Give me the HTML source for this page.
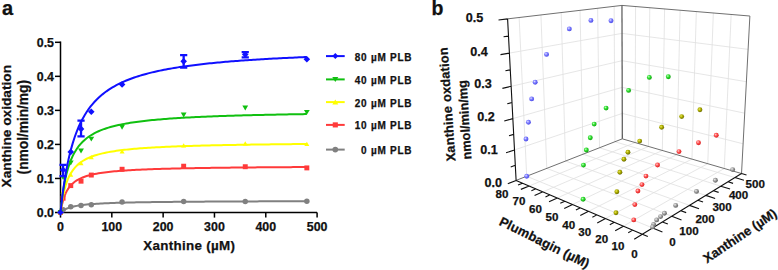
<!DOCTYPE html>
<html><head><meta charset="utf-8"><style>
html,body{margin:0;padding:0;background:#fff;}
body{width:778px;height:270px;overflow:hidden;position:relative;font-family:"Liberation Sans",sans-serif;}
svg{position:absolute;left:0;top:0;}
</style></head><body>
<svg width="778" height="270" viewBox="0 0 778 270">
<g stroke="#000" stroke-width="1.5" fill="none">
<path d="M60.5 41.4V212.5H317.1"/>
<path d="M55 212.5H60.5"/>
<path d="M55 178.46H60.5"/>
<path d="M55 144.42H60.5"/>
<path d="M55 110.38H60.5"/>
<path d="M55 76.34H60.5"/>
<path d="M55 42.3H60.5"/>
<path d="M60.5 212.5V217.6"/>
<path d="M111.82 212.5V217.6"/>
<path d="M163.14 212.5V217.6"/>
<path d="M214.46 212.5V217.6"/>
<path d="M265.78 212.5V217.6"/>
<path d="M317.1 212.5V217.6"/>
</g>
<g font-family="Liberation Sans, sans-serif" font-weight="bold" stroke="#111" stroke-width="0.25" font-size="12.4" fill="#111" text-anchor="end">
<text x="54" y="216.9">0.0</text>
<text x="54" y="182.86">0.1</text>
<text x="54" y="148.82">0.2</text>
<text x="54" y="114.78">0.3</text>
<text x="54" y="80.74">0.4</text>
<text x="54" y="46.7">0.5</text>
</g>
<g font-family="Liberation Sans, sans-serif" font-weight="bold" stroke="#111" stroke-width="0.25" font-size="12.4" fill="#111" text-anchor="middle">
<text x="60.5" y="230.6">0</text>
<text x="111.82" y="230.6">100</text>
<text x="163.14" y="230.6">200</text>
<text x="214.46" y="230.6">300</text>
<text x="265.78" y="230.6">400</text>
<text x="317.1" y="230.6">500</text>
</g>
<text font-family="Liberation Sans, sans-serif" font-weight="bold" stroke="#111" stroke-width="0.25" font-size="13.4" fill="#111" text-anchor="middle" letter-spacing="0.3" x="189.2" y="249.8">Xanthine (µM)</text>
<text font-family="Liberation Sans, sans-serif" font-weight="bold" stroke="#111" stroke-width="0.25" font-size="13.7" fill="#111" text-anchor="middle" transform="translate(11.2 126.2) rotate(-90)">Xanthine oxidation</text>
<text font-family="Liberation Sans, sans-serif" font-weight="bold" stroke="#111" stroke-width="0.25" font-size="13.8" fill="#111" text-anchor="middle" letter-spacing="-0.05" transform="translate(28.1 127.2) rotate(-90)">(nmol/min/mg)</text>
<text font-family="Liberation Sans, sans-serif" font-weight="bold" stroke="#111" stroke-width="0.25" font-size="20" fill="#111" x="2" y="15">a</text>
<path d="M60.5 212.5 L60.76 212.27 L61.01 212.04 L61.27 211.83 L61.53 211.62 L61.78 211.42 L62.04 211.23 L62.3 211.04 L62.55 210.86 L62.81 210.69 L63.07 210.52 L63.32 210.36 L63.58 210.21 L63.84 210.05 L64.09 209.91 L64.35 209.76 L64.61 209.63 L64.86 209.49 L65.12 209.36 L65.38 209.24 L65.63 209.11 L65.89 208.99 L66.15 208.88 L66.4 208.76 L66.66 208.65 L66.92 208.55 L67.17 208.44 L67.43 208.34 L67.68 208.24 L67.94 208.15 L68.2 208.05 L68.45 207.96 L68.71 207.87 L68.97 207.79 L69.22 207.7 L69.48 207.62 L69.74 207.54 L69.99 207.46 L70.25 207.38 L70.51 207.31 L70.76 207.23 L70.76 207.23 L72.75 206.71 L74.73 206.27 L76.72 205.88 L78.7 205.55 L80.68 205.25 L82.67 204.99 L84.65 204.76 L86.63 204.55 L88.62 204.36 L90.6 204.19 L92.59 204.03 L94.57 203.89 L96.55 203.76 L98.54 203.64 L100.52 203.53 L102.5 203.42 L104.49 203.33 L106.47 203.24 L108.46 203.15 L110.44 203.07 L112.42 203 L114.41 202.93 L116.39 202.86 L118.38 202.8 L120.36 202.74 L122.34 202.69 L124.33 202.63 L126.31 202.58 L128.29 202.54 L130.28 202.49 L132.26 202.45 L134.25 202.41 L136.23 202.37 L138.21 202.33 L140.2 202.29 L142.18 202.26 L144.16 202.23 L146.15 202.2 L148.13 202.17 L150.12 202.14 L152.1 202.11 L154.08 202.08 L156.07 202.05 L158.05 202.03 L160.03 202.01 L162.02 201.98 L164 201.96 L165.99 201.94 L167.97 201.92 L169.95 201.9 L171.94 201.88 L173.92 201.86 L175.91 201.84 L177.89 201.82 L179.87 201.8 L181.86 201.79 L183.84 201.77 L185.82 201.75 L187.81 201.74 L189.79 201.72 L191.78 201.71 L193.76 201.69 L195.74 201.68 L197.73 201.67 L199.71 201.65 L201.69 201.64 L203.68 201.63 L205.66 201.61 L207.65 201.6 L209.63 201.59 L211.61 201.58 L213.6 201.57 L215.58 201.56 L217.57 201.55 L219.55 201.54 L221.53 201.53 L223.52 201.52 L225.5 201.51 L227.48 201.5 L229.47 201.49 L231.45 201.48 L233.44 201.47 L235.42 201.46 L237.4 201.45 L239.39 201.45 L241.37 201.44 L243.35 201.43 L245.34 201.42 L247.32 201.41 L249.31 201.41 L251.29 201.4 L253.27 201.39 L255.26 201.39 L257.24 201.38 L259.22 201.37 L261.21 201.37 L263.19 201.36 L265.18 201.35 L267.16 201.35 L269.14 201.34 L271.13 201.33 L273.11 201.33 L275.1 201.32 L277.08 201.32 L279.06 201.31 L281.05 201.3 L283.03 201.3 L285.01 201.29 L287 201.29 L288.98 201.28 L290.97 201.28 L292.95 201.27 L294.93 201.27 L296.92 201.26 L298.9 201.26 L300.88 201.25 L302.87 201.25 L304.85 201.24 L306.84 201.24" stroke="#808080" stroke-width="2" fill="none"/>
<circle cx="60.5" cy="212.5" r="2.75" fill="#808080"/>
<circle cx="63.07" cy="209.78" r="2.75" fill="#808080"/>
<circle cx="70.76" cy="206.71" r="2.75" fill="#808080"/>
<circle cx="81.03" cy="205.49" r="2.75" fill="#808080"/>
<circle cx="91.29" cy="204.67" r="2.75" fill="#808080"/>
<circle cx="122.08" cy="201.95" r="2.75" fill="#808080"/>
<circle cx="183.67" cy="201.61" r="2.75" fill="#808080"/>
<circle cx="245.25" cy="201.61" r="2.75" fill="#808080"/>
<circle cx="306.84" cy="201.27" r="2.75" fill="#808080"/>
<path d="M60.5 212.5 L60.76 210.94 L61.01 209.48 L61.27 208.12 L61.53 206.83 L61.78 205.62 L62.04 204.48 L62.3 203.41 L62.55 202.39 L62.81 201.42 L63.07 200.51 L63.32 199.64 L63.58 198.81 L63.84 198.02 L64.09 197.27 L64.35 196.55 L64.61 195.87 L64.86 195.21 L65.12 194.58 L65.38 193.98 L65.63 193.41 L65.89 192.85 L66.15 192.32 L66.4 191.81 L66.66 191.31 L66.92 190.84 L67.17 190.38 L67.43 189.94 L67.68 189.52 L67.94 189.1 L68.2 188.71 L68.45 188.32 L68.71 187.95 L68.97 187.59 L69.22 187.25 L69.48 186.91 L69.74 186.58 L69.99 186.27 L70.25 185.96 L70.51 185.66 L70.76 185.37 L70.76 185.37 L72.75 183.39 L74.73 181.76 L76.72 180.42 L78.7 179.27 L80.68 178.3 L82.67 177.45 L84.65 176.71 L86.63 176.06 L88.62 175.48 L90.6 174.96 L92.59 174.49 L94.57 174.07 L96.55 173.69 L98.54 173.34 L100.52 173.02 L102.5 172.72 L104.49 172.45 L106.47 172.2 L108.46 171.96 L110.44 171.75 L112.42 171.54 L114.41 171.35 L116.39 171.17 L118.38 171.01 L120.36 170.85 L122.34 170.7 L124.33 170.56 L126.31 170.43 L128.29 170.3 L130.28 170.18 L132.26 170.07 L134.25 169.96 L136.23 169.86 L138.21 169.76 L140.2 169.67 L142.18 169.58 L144.16 169.49 L146.15 169.41 L148.13 169.33 L150.12 169.26 L152.1 169.19 L154.08 169.12 L156.07 169.05 L158.05 168.99 L160.03 168.93 L162.02 168.87 L164 168.81 L165.99 168.75 L167.97 168.7 L169.95 168.65 L171.94 168.6 L173.92 168.55 L175.91 168.5 L177.89 168.46 L179.87 168.41 L181.86 168.37 L183.84 168.33 L185.82 168.29 L187.81 168.25 L189.79 168.22 L191.78 168.18 L193.76 168.14 L195.74 168.11 L197.73 168.07 L199.71 168.04 L201.69 168.01 L203.68 167.98 L205.66 167.95 L207.65 167.92 L209.63 167.89 L211.61 167.86 L213.6 167.84 L215.58 167.81 L217.57 167.78 L219.55 167.76 L221.53 167.73 L223.52 167.71 L225.5 167.69 L227.48 167.66 L229.47 167.64 L231.45 167.62 L233.44 167.6 L235.42 167.58 L237.4 167.56 L239.39 167.54 L241.37 167.52 L243.35 167.5 L245.34 167.48 L247.32 167.46 L249.31 167.44 L251.29 167.42 L253.27 167.41 L255.26 167.39 L257.24 167.37 L259.22 167.35 L261.21 167.34 L263.19 167.32 L265.18 167.31 L267.16 167.29 L269.14 167.28 L271.13 167.26 L273.11 167.25 L275.1 167.23 L277.08 167.22 L279.06 167.21 L281.05 167.19 L283.03 167.18 L285.01 167.17 L287 167.15 L288.98 167.14 L290.97 167.13 L292.95 167.12 L294.93 167.1 L296.92 167.09 L298.9 167.08 L300.88 167.07 L302.87 167.06 L304.85 167.05 L306.84 167.04" stroke="#ff3a3a" stroke-width="2" fill="none"/>
<rect x="58.03" y="210.03" width="4.93" height="4.93" fill="#ff3a3a"/>
<rect x="60.6" y="195.74" width="4.93" height="4.93" fill="#ff3a3a"/>
<rect x="68.3" y="183.14" width="4.93" height="4.93" fill="#ff3a3a"/>
<rect x="78.56" y="178.72" width="4.93" height="4.93" fill="#ff3a3a"/>
<rect x="88.83" y="172.59" width="4.93" height="4.93" fill="#ff3a3a"/>
<rect x="119.62" y="166.8" width="4.93" height="4.93" fill="#ff3a3a"/>
<rect x="181.2" y="163.74" width="4.93" height="4.93" fill="#ff3a3a"/>
<rect x="242.79" y="164.25" width="4.93" height="4.93" fill="#ff3a3a"/>
<rect x="304.37" y="165.44" width="4.93" height="4.93" fill="#ff3a3a"/>
<path d="M60.5 212.5 L60.76 210.38 L61.01 208.39 L61.27 206.5 L61.53 204.72 L61.78 203.04 L62.04 201.44 L62.3 199.93 L62.55 198.49 L62.81 197.12 L63.07 195.81 L63.32 194.56 L63.58 193.37 L63.84 192.23 L64.09 191.15 L64.35 190.1 L64.61 189.1 L64.86 188.14 L65.12 187.22 L65.38 186.34 L65.63 185.48 L65.89 184.66 L66.15 183.87 L66.4 183.11 L66.66 182.38 L66.92 181.67 L67.17 180.98 L67.43 180.32 L67.68 179.68 L67.94 179.06 L68.2 178.47 L68.45 177.89 L68.71 177.32 L68.97 176.78 L69.22 176.25 L69.48 175.74 L69.74 175.24 L69.99 174.76 L70.25 174.29 L70.51 173.83 L70.76 173.39 L70.76 173.39 L72.75 170.33 L74.73 167.81 L76.72 165.69 L78.7 163.89 L80.68 162.35 L82.67 161 L84.65 159.82 L86.63 158.77 L88.62 157.84 L90.6 157.01 L92.59 156.25 L94.57 155.57 L96.55 154.95 L98.54 154.38 L100.52 153.86 L102.5 153.38 L104.49 152.93 L106.47 152.52 L108.46 152.14 L110.44 151.78 L112.42 151.45 L114.41 151.14 L116.39 150.85 L118.38 150.57 L120.36 150.31 L122.34 150.07 L124.33 149.84 L126.31 149.62 L128.29 149.41 L130.28 149.21 L132.26 149.03 L134.25 148.85 L136.23 148.68 L138.21 148.52 L140.2 148.36 L142.18 148.21 L144.16 148.07 L146.15 147.94 L148.13 147.81 L150.12 147.68 L152.1 147.56 L154.08 147.45 L156.07 147.34 L158.05 147.23 L160.03 147.13 L162.02 147.03 L164 146.94 L165.99 146.84 L167.97 146.76 L169.95 146.67 L171.94 146.59 L173.92 146.51 L175.91 146.43 L177.89 146.35 L179.87 146.28 L181.86 146.21 L183.84 146.14 L185.82 146.07 L187.81 146.01 L189.79 145.95 L191.78 145.89 L193.76 145.83 L195.74 145.77 L197.73 145.71 L199.71 145.66 L201.69 145.61 L203.68 145.55 L205.66 145.5 L207.65 145.46 L209.63 145.41 L211.61 145.36 L213.6 145.32 L215.58 145.27 L217.57 145.23 L219.55 145.19 L221.53 145.14 L223.52 145.1 L225.5 145.06 L227.48 145.03 L229.47 144.99 L231.45 144.95 L233.44 144.92 L235.42 144.88 L237.4 144.85 L239.39 144.81 L241.37 144.78 L243.35 144.75 L245.34 144.72 L247.32 144.68 L249.31 144.65 L251.29 144.62 L253.27 144.59 L255.26 144.57 L257.24 144.54 L259.22 144.51 L261.21 144.48 L263.19 144.46 L265.18 144.43 L267.16 144.41 L269.14 144.38 L271.13 144.36 L273.11 144.33 L275.1 144.31 L277.08 144.28 L279.06 144.26 L281.05 144.24 L283.03 144.22 L285.01 144.2 L287 144.17 L288.98 144.15 L290.97 144.13 L292.95 144.11 L294.93 144.09 L296.92 144.07 L298.9 144.05 L300.88 144.03 L302.87 144.01 L304.85 144 L306.84 143.98" stroke="#ffff00" stroke-width="2" fill="none"/>
<path d="M58 214.5L63 214.5L60.5 210.25Z" fill="#ffff00"/>
<path d="M60.57 193.4L65.57 193.4L63.07 189.15Z" fill="#ffff00"/>
<path d="M68.26 176.72L73.26 176.72L70.76 172.47Z" fill="#ffff00"/>
<path d="M78.53 165.31L83.53 165.31L81.03 161.06Z" fill="#ffff00"/>
<path d="M88.79 159.36L93.79 159.36L91.29 155.11Z" fill="#ffff00"/>
<path d="M119.58 153.57L124.58 153.57L122.08 149.32Z" fill="#ffff00"/>
<path d="M181.17 147.44L186.17 147.44L183.67 143.19Z" fill="#ffff00"/>
<path d="M242.75 145.4L247.75 145.4L245.25 141.15Z" fill="#ffff00"/>
<path d="M304.34 145.91L309.34 145.91L306.84 141.66Z" fill="#ffff00"/>
<path d="M60.5 212.5 L60.76 209.92 L61.01 207.46 L61.27 205.12 L61.53 202.89 L61.78 200.76 L62.04 198.73 L62.3 196.79 L62.55 194.93 L62.81 193.15 L63.07 191.44 L63.32 189.8 L63.58 188.23 L63.84 186.71 L64.09 185.26 L64.35 183.86 L64.61 182.51 L64.86 181.2 L65.12 179.95 L65.38 178.74 L65.63 177.57 L65.89 176.43 L66.15 175.34 L66.4 174.28 L66.66 173.26 L66.92 172.26 L67.17 171.3 L67.43 170.37 L67.68 169.47 L67.94 168.59 L68.2 167.74 L68.45 166.91 L68.71 166.1 L68.97 165.32 L69.22 164.56 L69.48 163.82 L69.74 163.1 L69.99 162.4 L70.25 161.72 L70.51 161.05 L70.76 160.41 L70.76 160.41 L72.75 155.9 L74.73 152.14 L76.72 148.95 L78.7 146.21 L80.68 143.83 L82.67 141.74 L84.65 139.9 L86.63 138.26 L88.62 136.79 L90.6 135.47 L92.59 134.27 L94.57 133.18 L96.55 132.18 L98.54 131.27 L100.52 130.43 L102.5 129.65 L104.49 128.93 L106.47 128.27 L108.46 127.64 L110.44 127.06 L112.42 126.52 L114.41 126.01 L116.39 125.53 L118.38 125.08 L120.36 124.65 L122.34 124.25 L124.33 123.87 L126.31 123.51 L128.29 123.17 L130.28 122.84 L132.26 122.53 L134.25 122.24 L136.23 121.96 L138.21 121.69 L140.2 121.43 L142.18 121.19 L144.16 120.95 L146.15 120.73 L148.13 120.51 L150.12 120.3 L152.1 120.1 L154.08 119.91 L156.07 119.73 L158.05 119.55 L160.03 119.38 L162.02 119.21 L164 119.05 L165.99 118.9 L167.97 118.75 L169.95 118.61 L171.94 118.47 L173.92 118.34 L175.91 118.2 L177.89 118.08 L179.87 117.96 L181.86 117.84 L183.84 117.72 L185.82 117.61 L187.81 117.5 L189.79 117.4 L191.78 117.29 L193.76 117.2 L195.74 117.1 L197.73 117 L199.71 116.91 L201.69 116.82 L203.68 116.74 L205.66 116.65 L207.65 116.57 L209.63 116.49 L211.61 116.41 L213.6 116.33 L215.58 116.26 L217.57 116.18 L219.55 116.11 L221.53 116.04 L223.52 115.98 L225.5 115.91 L227.48 115.84 L229.47 115.78 L231.45 115.72 L233.44 115.66 L235.42 115.6 L237.4 115.54 L239.39 115.48 L241.37 115.43 L243.35 115.37 L245.34 115.32 L247.32 115.27 L249.31 115.21 L251.29 115.16 L253.27 115.11 L255.26 115.07 L257.24 115.02 L259.22 114.97 L261.21 114.93 L263.19 114.88 L265.18 114.84 L267.16 114.79 L269.14 114.75 L271.13 114.71 L273.11 114.67 L275.1 114.63 L277.08 114.59 L279.06 114.55 L281.05 114.51 L283.03 114.47 L285.01 114.44 L287 114.4 L288.98 114.36 L290.97 114.33 L292.95 114.29 L294.93 114.26 L296.92 114.23 L298.9 114.19 L300.88 114.16 L302.87 114.13 L304.85 114.1 L306.84 114.07" stroke="#10c010" stroke-width="2" fill="none"/>
<path d="M57.6 210.18L63.4 210.18L60.5 215.11Z" fill="#10c010"/>
<path d="M60.17 175.12L65.97 175.12L63.07 180.05Z" fill="#10c010"/>
<path d="M67.86 160.48L73.66 160.48L70.76 165.41Z" fill="#10c010"/>
<path d="M78.13 148.57L83.93 148.57L81.03 153.5Z" fill="#10c010"/>
<path d="M88.39 136.65L94.19 136.65L91.29 141.58Z" fill="#10c010"/>
<path d="M119.18 124.74L124.98 124.74L122.08 129.67Z" fill="#10c010"/>
<path d="M180.77 112.49L186.57 112.49L183.67 117.42Z" fill="#10c010"/>
<path d="M242.35 105.47L248.15 105.47L245.25 110.4Z" fill="#10c010"/>
<path d="M303.94 109.9L309.74 109.9L306.84 114.83Z" fill="#10c010"/>
<path d="M60.5 212.5 L60.76 210.04 L61.01 207.65 L61.27 205.34 L61.53 203.08 L61.78 200.89 L62.04 198.76 L62.3 196.69 L62.55 194.68 L62.81 192.71 L63.07 190.8 L63.32 188.94 L63.58 187.12 L63.84 185.36 L64.09 183.63 L64.35 181.95 L64.61 180.3 L64.86 178.7 L65.12 177.14 L65.38 175.61 L65.63 174.11 L65.89 172.65 L66.15 171.23 L66.4 169.83 L66.66 168.47 L66.92 167.14 L67.17 165.83 L67.43 164.55 L67.68 163.3 L67.94 162.08 L68.2 160.88 L68.45 159.71 L68.71 158.56 L68.97 157.43 L69.22 156.32 L69.48 155.24 L69.74 154.18 L69.99 153.14 L70.25 152.11 L70.51 151.11 L70.76 150.13 L70.76 150.13 L72.75 143.11 L74.73 136.97 L76.72 131.57 L78.7 126.77 L80.68 122.49 L82.67 118.64 L84.65 115.15 L86.63 111.99 L88.62 109.11 L90.6 106.47 L92.59 104.04 L94.57 101.8 L96.55 99.72 L98.54 97.8 L100.52 96.01 L102.5 94.34 L104.49 92.78 L106.47 91.31 L108.46 89.94 L110.44 88.64 L112.42 87.43 L114.41 86.28 L116.39 85.19 L118.38 84.16 L120.36 83.18 L122.34 82.25 L124.33 81.37 L126.31 80.53 L128.29 79.73 L130.28 78.96 L132.26 78.23 L134.25 77.53 L136.23 76.87 L138.21 76.23 L140.2 75.61 L142.18 75.02 L144.16 74.45 L146.15 73.91 L148.13 73.39 L150.12 72.88 L152.1 72.4 L154.08 71.93 L156.07 71.47 L158.05 71.04 L160.03 70.62 L162.02 70.21 L164 69.81 L165.99 69.43 L167.97 69.06 L169.95 68.71 L171.94 68.36 L173.92 68.02 L175.91 67.7 L177.89 67.38 L179.87 67.07 L181.86 66.78 L183.84 66.49 L185.82 66.2 L187.81 65.93 L189.79 65.66 L191.78 65.4 L193.76 65.15 L195.74 64.9 L197.73 64.66 L199.71 64.43 L201.69 64.2 L203.68 63.98 L205.66 63.76 L207.65 63.55 L209.63 63.35 L211.61 63.14 L213.6 62.95 L215.58 62.76 L217.57 62.57 L219.55 62.38 L221.53 62.2 L223.52 62.03 L225.5 61.86 L227.48 61.69 L229.47 61.52 L231.45 61.36 L233.44 61.2 L235.42 61.05 L237.4 60.9 L239.39 60.75 L241.37 60.6 L243.35 60.46 L245.34 60.32 L247.32 60.19 L249.31 60.05 L251.29 59.92 L253.27 59.79 L255.26 59.66 L257.24 59.54 L259.22 59.42 L261.21 59.3 L263.19 59.18 L265.18 59.06 L267.16 58.95 L269.14 58.84 L271.13 58.73 L273.11 58.62 L275.1 58.52 L277.08 58.41 L279.06 58.31 L281.05 58.21 L283.03 58.11 L285.01 58.01 L287 57.92 L288.98 57.82 L290.97 57.73 L292.95 57.64 L294.93 57.55 L296.92 57.46 L298.9 57.37 L300.88 57.29 L302.87 57.2 L304.85 57.12 L306.84 57.04" stroke="#1010ff" stroke-width="2" fill="none"/>
<path d="M63.07 176.08V164.84M59.47 176.08H66.67M59.47 164.84H66.67" stroke="#1010ff" stroke-width="2.3" fill="none"/>
<path d="M81.03 136.28V120.59M77.43 136.28H84.63M77.43 120.59H84.63" stroke="#1010ff" stroke-width="2.3" fill="none"/>
<path d="M183.67 67.59V55.2M180.07 67.59H187.27M180.07 55.2H187.27" stroke="#1010ff" stroke-width="2.3" fill="none"/>
<path d="M245.25 57.38V52.04M241.65 57.38H248.85M241.65 52.04H248.85" stroke="#1010ff" stroke-width="2.3" fill="none"/>
<path d="M60.5 209.2L63.8 212.5L60.5 215.8L57.2 212.5Z" fill="#1010ff"/>
<path d="M63.07 166.65L66.37 169.95L63.07 173.25L59.77 169.95Z" fill="#1010ff"/>
<path d="M70.76 148.61L74.06 151.91L70.76 155.21L67.46 151.91Z" fill="#1010ff"/>
<path d="M81.03 125.6L84.33 128.9L81.03 132.2L77.73 128.9Z" fill="#1010ff"/>
<path d="M91.29 108.44L94.59 111.74L91.29 115.04L87.99 111.74Z" fill="#1010ff"/>
<path d="M122.08 81.21L125.38 84.51L122.08 87.81L118.78 84.51Z" fill="#1010ff"/>
<path d="M183.67 58.06L186.97 61.36L183.67 64.66L180.37 61.36Z" fill="#1010ff"/>
<path d="M245.25 51.25L248.55 54.55L245.25 57.85L241.95 54.55Z" fill="#1010ff"/>
<path d="M306.84 56.02L310.14 59.32L306.84 62.62L303.54 59.32Z" fill="#1010ff"/>
<path d="M326 56.1H344.7" stroke="#1010ff" stroke-width="2"/>
<path d="M335.3 53.1L338.3 56.1L335.3 59.1L332.3 56.1Z" fill="#1010ff"/>
<text font-family="Liberation Sans, sans-serif" font-weight="bold" stroke="#111" stroke-width="0.25" font-size="10" fill="#111" letter-spacing="0.75" text-anchor="end" x="412.3" y="60.5">80 µM PLB</text>
<path d="M326 79.4H344.7" stroke="#10c010" stroke-width="2"/>
<path d="M332.3 77L338.3 77L335.3 82.1Z" fill="#10c010"/>
<text font-family="Liberation Sans, sans-serif" font-weight="bold" stroke="#111" stroke-width="0.25" font-size="10" fill="#111" letter-spacing="0.75" text-anchor="end" x="412.3" y="83.8">40 µM PLB</text>
<path d="M326 102.1H344.7" stroke="#ffff00" stroke-width="2"/>
<path d="M332.3 104.5L338.3 104.5L335.3 99.4Z" fill="#ffff00"/>
<text font-family="Liberation Sans, sans-serif" font-weight="bold" stroke="#111" stroke-width="0.25" font-size="10" fill="#111" letter-spacing="0.75" text-anchor="end" x="412.3" y="106.5">20 µM PLB</text>
<path d="M326 124.9H344.7" stroke="#ff3a3a" stroke-width="2"/>
<rect x="332.75" y="122.35" width="5.1" height="5.1" fill="#ff3a3a"/>
<text font-family="Liberation Sans, sans-serif" font-weight="bold" stroke="#111" stroke-width="0.25" font-size="10" fill="#111" letter-spacing="0.75" text-anchor="end" x="412.3" y="129.3">10 µM PLB</text>
<path d="M326 149.6H344.7" stroke="#808080" stroke-width="2"/>
<circle cx="335.3" cy="149.6" r="2.85" fill="#808080"/>
<text font-family="Liberation Sans, sans-serif" font-weight="bold" stroke="#111" stroke-width="0.25" font-size="10" fill="#111" letter-spacing="0.75" text-anchor="end" x="412.3" y="154">0 µM PLB</text>
<path d="M623.38 226.15L724.25 168.5M605.5 218.52L707.75 163.7M588.58 211.31L691.96 159.11M572.55 204.47L676.85 154.71M557.35 197.99L662.37 150.49M542.92 191.83L648.47 146.45M529.19 185.97L635.14 142.57M652.59 227.96L526.7 176.25M671.82 216.19L546.78 168.4M689.5 205.37L565.52 161.06M705.8 195.39L583.06 154.2M720.89 186.16L599.5 147.77M734.89 177.59L614.94 141.73M514.5 149.94L622.25 113.41M512.85 118.6L622.18 87.37M511.15 86.33L622.11 60.71M509.4 53.1L622.03 33.4M526.7 176.25L519.13 17.51M546.78 168.4L540.93 14.94M565.52 161.06L561.18 12.56M583.06 154.2L580.04 10.35M599.5 147.77L597.64 8.28M614.94 141.73L614.11 6.34M743.1 143.78L622.25 113.41M744.73 113.2L622.18 87.37M746.39 81.73L622.11 60.71M748.11 49.35L622.03 33.4M724.25 168.5L731.16 14.47M707.75 163.7L713.34 12.99M691.96 159.11L696.34 11.58M676.85 154.71L680.11 10.24M662.37 150.49L664.6 8.95M648.47 146.45L649.77 7.72M635.14 142.57L635.57 6.55" stroke="#e0e0e0" stroke-width="0.8" fill="none"/>
<path d="M507.59 18.86L621.96 5.42M621.96 5.42L749.88 16.02M741.52 173.53L749.88 16.02M516.11 180.39L622.32 138.84M622.32 138.84L741.52 173.53" stroke="#707070" stroke-width="1" fill="none"/>
<path d="M622.32 138.84L621.96 5.42" stroke="#555" stroke-width="1.2" fill="none"/>
<path d="M516.11 180.39L507.59 18.86M516.11 180.39L642.33 234.23M642.33 234.23L741.52 173.53M516.11 180.39L507.8 183.64M515.31 165.27L510.71 166.95M514.5 149.94L506.05 152.8M513.68 134.38L509 135.84M512.85 118.6L504.25 121.05M512.01 102.58L507.25 103.81M511.15 86.33L502.4 88.35M510.28 69.84L505.43 70.83M509.4 53.1L500.49 54.66M508.5 36.11L503.57 36.83M507.59 18.86L498.52 19.93M642.33 234.23L634.22 239.2M632.72 230.14L628.24 232.78M623.38 226.15L615.19 230.84M614.31 222.29L609.8 224.78M605.5 218.52L597.24 222.95M596.92 214.87L592.38 217.23M588.58 211.31L580.28 215.5M580.46 207.84L575.9 210.08M572.55 204.47L564.23 208.44M564.86 201.19L560.28 203.31M557.35 197.99L549.02 201.76M550.04 194.87L545.47 196.89M542.92 191.83L534.58 195.41M535.97 188.86L531.39 190.78M529.19 185.97L520.86 189.38M522.57 183.15L518 184.98M516.11 180.39L507.8 183.64M642.33 234.23L647.83 236.58M652.59 227.96L662.42 231.99M662.41 221.94L667.84 224.09M671.82 216.19L681.5 219.89M680.84 210.67L686.18 212.64M689.5 205.37L699.02 208.77M697.81 200.28L703.06 202.1M705.8 195.39L715.16 198.53M713.49 190.69L718.65 192.37M720.89 186.16L730.08 189.06M728.02 181.79L733.09 183.35M734.89 177.59L743.92 180.28M741.52 173.53L746.5 174.98" stroke="#111" stroke-width="1.1" fill="none"/>
<g font-family="Liberation Sans, sans-serif" font-weight="bold" stroke="#111" stroke-width="0.25" font-size="11.6" fill="#111"><text x="502" y="186.9" text-anchor="end" font-size="12.6">0.0</text><text x="497.8" y="154.2" text-anchor="end" font-size="12.6">0.1</text><text x="494.8" y="120.6" text-anchor="end" font-size="12.6">0.2</text><text x="491.7" y="88" text-anchor="end" font-size="12.6">0.3</text><text x="487.8" y="55.5" text-anchor="end" font-size="12.6">0.4</text><text x="483.3" y="21.7" text-anchor="end" font-size="12.6">0.5</text><text x="634.6" y="258.4" text-anchor="middle">0</text><text x="618" y="250.4" text-anchor="middle">10</text><text x="601.7" y="243" text-anchor="middle">20</text><text x="584.8" y="235.6" text-anchor="middle">30</text><text x="568.7" y="228.6" text-anchor="middle">40</text><text x="551.9" y="220.6" text-anchor="middle">50</text><text x="535.5" y="213.1" text-anchor="middle">60</text><text x="519" y="205.1" text-anchor="middle">70</text><text x="502" y="197.6" text-anchor="middle">80</text><text x="672.4" y="246.1" text-anchor="middle">0</text><text x="689" y="235.1" text-anchor="middle">100</text><text x="705.1" y="223.1" text-anchor="middle">200</text><text x="722.1" y="210.8" text-anchor="middle">300</text><text x="738.6" y="199.4" text-anchor="middle">400</text><text x="755.2" y="187.7" text-anchor="middle">500</text></g>
<text font-family="Liberation Sans, sans-serif" font-weight="bold" stroke="#111" stroke-width="0.25" font-size="12.8" fill="#111" text-anchor="middle" letter-spacing="0.2" transform="translate(451.5 104.1) rotate(-94)">Xanthine oxdation</text>
<text font-family="Liberation Sans, sans-serif" font-weight="bold" stroke="#111" stroke-width="0.25" font-size="12.8" fill="#111" text-anchor="middle" transform="translate(469 119.6) rotate(-93.7)">nmol/min/mg</text>
<text font-family="Liberation Sans, sans-serif" font-weight="bold" stroke="#111" stroke-width="0.25" font-size="13" fill="#111" text-anchor="middle" letter-spacing="0.15" transform="translate(542.5 246.5) rotate(26.5)">Plumbagin (µM)</text>
<text font-family="Liberation Sans, sans-serif" font-weight="bold" stroke="#111" stroke-width="0.25" font-size="13" fill="#111" text-anchor="middle" transform="translate(742.5 239.5) rotate(-34)">Xanthine (µM)</text>
<text font-family="Liberation Sans, sans-serif" font-weight="bold" stroke="#111" stroke-width="0.25" font-size="19.5" fill="#111" x="431.5" y="14.8">b</text>
<defs><radialGradient id="gblue" cx="0.38" cy="0.36" r="0.65"><stop offset="0" stop-color="#e0e0ff"/><stop offset="0.45" stop-color="#7c7cff"/><stop offset="1" stop-color="#4a4ae6"/></radialGradient><radialGradient id="ggreen" cx="0.38" cy="0.36" r="0.65"><stop offset="0" stop-color="#c0ffc0"/><stop offset="0.45" stop-color="#30e030"/><stop offset="1" stop-color="#10a010"/></radialGradient><radialGradient id="gyellow" cx="0.38" cy="0.36" r="0.65"><stop offset="0" stop-color="#e8e860"/><stop offset="0.45" stop-color="#b0b000"/><stop offset="1" stop-color="#6a6a00"/></radialGradient><radialGradient id="gred" cx="0.38" cy="0.36" r="0.65"><stop offset="0" stop-color="#ffd0d0"/><stop offset="0.45" stop-color="#ff5050"/><stop offset="1" stop-color="#d82020"/></radialGradient><radialGradient id="ggray" cx="0.38" cy="0.36" r="0.65"><stop offset="0" stop-color="#f0f0f0"/><stop offset="0.45" stop-color="#a0a0a0"/><stop offset="1" stop-color="#606060"/></radialGradient></defs>
<circle cx="611.01" cy="20.7" r="2.45" fill="url(#gblue)"/><circle cx="590.92" cy="20.41" r="2.45" fill="url(#gblue)"/><circle cx="668.3" cy="76.7" r="2.45" fill="url(#ggreen)"/><circle cx="569.33" cy="28.91" r="2.45" fill="url(#gblue)"/><circle cx="699.94" cy="109.81" r="2.45" fill="url(#gyellow)"/><circle cx="526.7" cy="176.25" r="2.45" fill="url(#gblue)"/><circle cx="649.35" cy="77.39" r="2.45" fill="url(#ggreen)"/><circle cx="546.55" cy="54.4" r="2.45" fill="url(#gblue)"/><circle cx="716.26" cy="135.3" r="2.45" fill="url(#gred)"/><circle cx="526" cy="138.99" r="2.45" fill="url(#gblue)"/><circle cx="528.44" cy="122.29" r="2.45" fill="url(#gblue)"/><circle cx="535.18" cy="82.21" r="2.45" fill="url(#gblue)"/><circle cx="531.65" cy="98.9" r="2.45" fill="url(#gblue)"/><circle cx="732.64" cy="169.61" r="2.45" fill="url(#ggray)"/><circle cx="681.67" cy="116.61" r="2.45" fill="url(#gyellow)"/><circle cx="628.6" cy="90.4" r="2.45" fill="url(#ggreen)"/><circle cx="698.49" cy="142.68" r="2.45" fill="url(#gred)"/><circle cx="715.38" cy="180.3" r="2.45" fill="url(#ggray)"/><circle cx="661.64" cy="127.31" r="2.45" fill="url(#gyellow)"/><circle cx="606.07" cy="108.08" r="2.45" fill="url(#ggreen)"/><circle cx="583.12" cy="199.3" r="2.45" fill="url(#ggreen)"/><circle cx="679.01" cy="151.61" r="2.45" fill="url(#gred)"/><circle cx="594.19" cy="124.09" r="2.45" fill="url(#ggreen)"/><circle cx="590.28" cy="137.79" r="2.45" fill="url(#ggreen)"/><circle cx="696.49" cy="191.42" r="2.45" fill="url(#ggray)"/><circle cx="583.45" cy="165.11" r="2.45" fill="url(#ggreen)"/><circle cx="586.32" cy="150.01" r="2.45" fill="url(#ggreen)"/><circle cx="639.7" cy="141.08" r="2.45" fill="url(#gyellow)"/><circle cx="657.52" cy="165.01" r="2.45" fill="url(#gred)"/><circle cx="615.96" cy="212.81" r="2.45" fill="url(#gyellow)"/><circle cx="627.95" cy="152.19" r="2.45" fill="url(#gyellow)"/><circle cx="623.93" cy="159.18" r="2.45" fill="url(#gyellow)"/><circle cx="616.87" cy="191.69" r="2.45" fill="url(#gyellow)"/><circle cx="675.66" cy="205.4" r="2.45" fill="url(#ggray)"/><circle cx="619.88" cy="172.3" r="2.45" fill="url(#gyellow)"/><circle cx="645.96" cy="176.1" r="2.45" fill="url(#gred)"/><circle cx="641.95" cy="184.6" r="2.45" fill="url(#gred)"/><circle cx="633.76" cy="219.91" r="2.45" fill="url(#gred)"/><circle cx="637.91" cy="191.01" r="2.45" fill="url(#gred)"/><circle cx="634.82" cy="204.61" r="2.45" fill="url(#gred)"/><circle cx="664.45" cy="213.22" r="2.45" fill="url(#ggray)"/><circle cx="660.58" cy="216.6" r="2.45" fill="url(#ggray)"/><circle cx="656.64" cy="219.9" r="2.45" fill="url(#ggray)"/><circle cx="653.62" cy="224.5" r="2.45" fill="url(#ggray)"/><circle cx="652.6" cy="226.89" r="2.45" fill="url(#ggray)"/>
</svg>
</body></html>
